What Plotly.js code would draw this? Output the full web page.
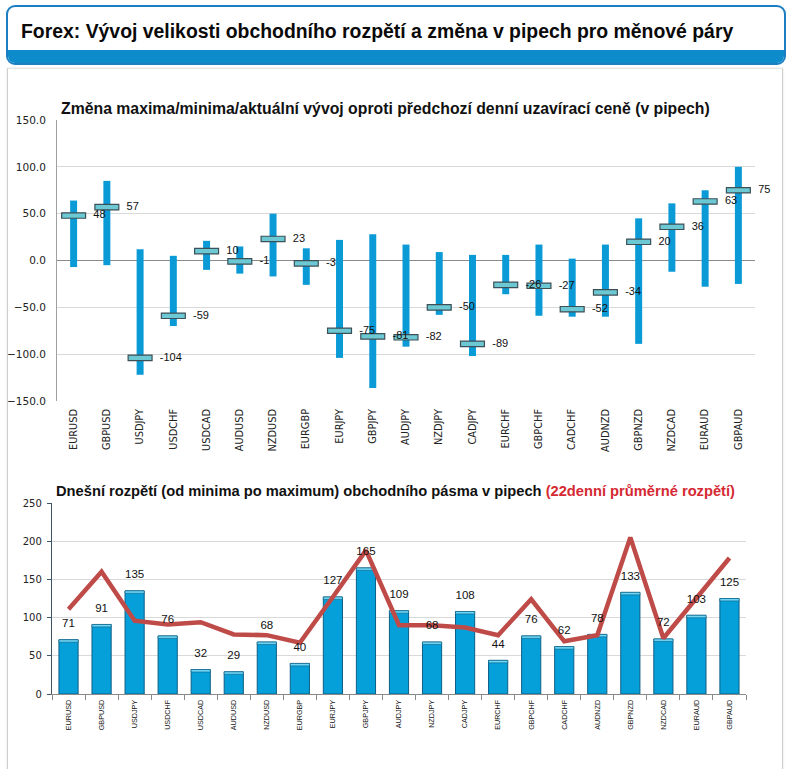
<!DOCTYPE html>
<html>
<head>
<meta charset="utf-8">
<script src="https://cdn.plot.ly/plotly-3.0.1.min.js"></script>
<style>
  html, body { margin:0; padding:0; background:#ffffff; }
  #wrap { position:relative; width:796px; height:769px; overflow:hidden; }
  #hdr { position:absolute; left:6px; top:5px; width:776px; height:56px; border:2px solid #1c7fc2; border-radius:9px; background:#fff; overflow:hidden; }
  #band { position:absolute; left:0; right:0; bottom:0; height:13px; background:#0d8bcb; }
  #panel { position:absolute; left:7px; top:68px; width:774px; height:720px; border-left:1px solid #cfcfcf; border-right:1px solid #cfcfcf; border-top:1px solid #e6e6e6; box-shadow:0 0 2px #dcdcdc; }
  #chart { position:absolute; left:0; top:0; width:796px; height:769px; }
</style>
</head>
<body>
<div id="wrap">
  <div id="hdr"><div id="band"></div></div>
  <div id="panel"></div>
  <div id="chart"></div>
</div>
<script>
// ---- data ----
var pairs = ['EURUSD','GBPUSD','USDJPY','USDCHF','USDCAD','AUDUSD','NZDUSD','EURGBP','EURJPY','GBPJPY','AUDJPY','NZDJPY','CADJPY','EURCHF','GBPCHF','CADCHF','AUDNZD','GBPNZD','NZDCAD','EURAUD','GBPAUD'];
var highs = [64, 85, 12, 5, 21, 15, 50, 13, 22, 28, 17, 9, 6, 6, 17, 2, 17, 45, 61, 75, 100];
var lows = [-7, -5, -122, -70, -10, -14, -17, -26, -104, -136, -92, -58, -102, -36, -59, -60, -60, -89, -12, -28, -25];
var current = [48, 57, -104, -59, 10, -1, 23, -3, -75, -81, -82, -50, -89, -26, -27, -52, -34, 20, 36, 63, 75];
var dailyRange = [71, 91, 135, 76, 32, 29, 68, 40, 127, 165, 109, 68, 108, 44, 76, 62, 78, 133, 72, 103, 125];
var avg22 = [111, 160, 96, 91, 94, 78, 77, 67, 127, 188, 90, 90, 87, 77, 124, 69, 77, 205, 73, 126, 178];
var topTicks = [-150, -100, -50, 0, 50, 100, 150];
var bottomTicks = [0, 50, 100, 150, 200, 250];

// ---- helpers (figure is 796x769 px, margins 0) ----
var W = 796, H = 769;
function px(x){ return x / W; }
function py(y){ return 1 - y / H; }

var capH = 5.8;
var traces = [];
// top: high-low range bars
traces.push({
  type:'bar', x:pairs, base:lows, y:highs.map(function(h,i){return h-lows[i];}),
  width:0.21, marker:{color:'#0a9ad6', line:{width:0}}, xaxis:'x', yaxis:'y', hoverinfo:'skip'
});
// top: current value caps
traces.push({
  type:'bar', x:pairs, base:current.map(function(v){return v-capH/2;}), y:current.map(function(){return capH;}),
  width:0.72, marker:{color:'#6cc9d3', line:{color:'#3d4f57', width:1.2}}, xaxis:'x', yaxis:'y', hoverinfo:'skip'
});
// top: labels
traces.push({
  type:'scatter', mode:'markers+text', x:pairs, y:current, text:current.map(String),
  textposition:'middle right', marker:{size:30, opacity:0},
  textfont:{family:'Liberation Sans, Arial, sans-serif', size:11, color:'#111'},
  xaxis:'x', yaxis:'y', hoverinfo:'skip', cliponaxis:false
});
// bottom: daily range bars
traces.push({
  type:'bar', x:pairs, y:dailyRange, width:0.58,
  marker:{color:'#05a0d9', line:{color:'#0d5f85', width:1}}, xaxis:'x2', yaxis:'y2', hoverinfo:'skip'
});
// bottom: bar top highlight
traces.push({
  type:'bar', x:pairs, base:dailyRange.map(function(v){return v-3.2;}), y:dailyRange.map(function(){return 3.2;}),
  width:0.58, marker:{color:'#6fd6f5', line:{color:'#0d5f85', width:0.6}}, xaxis:'x2', yaxis:'y2', hoverinfo:'skip'
});
// bottom: 22 day average line
traces.push({
  type:'scatter', mode:'lines', x:pairs, y:avg22,
  line:{color:'#bf4b48', width:4.5}, xaxis:'x2', yaxis:'y2', hoverinfo:'skip'
});
// bottom: labels
traces.push({
  type:'scatter', mode:'markers+text', x:pairs, y:dailyRange, text:dailyRange.map(String),
  textposition:'top center', marker:{size:14, opacity:0},
  textfont:{family:'Liberation Sans, Arial, sans-serif', size:11.5, color:'#111'},
  xaxis:'x2', yaxis:'y2', hoverinfo:'skip', cliponaxis:false
});

var tickFont = {family:'DejaVu Sans, sans-serif', size:10, color:'#222'};

var layout = {
  width:W, height:H, margin:{l:0, r:0, t:0, b:0},
  paper_bgcolor:'rgba(0,0,0,0)', plot_bgcolor:'rgba(0,0,0,0)',
  barmode:'overlay', showlegend:false, hovermode:false,
  xaxis:{
    domain:[px(57), px(755)], anchor:'y', type:'category', range:[-0.5, 20.5],
    tickangle:-90, tickfont:{family:'DejaVu Sans, sans-serif', size:9.8, color:'#222'},
    showgrid:false, showline:false, ticks:'', ticklabelstandoff:5, fixedrange:true
  },
  yaxis:{
    domain:[py(401), py(120)], anchor:'x', range:[-150, 150], tickvals:topTicks,
    tickformat:'.1f', tickfont:{family:'DejaVu Sans, sans-serif', size:10.5, color:'#222'},
    showgrid:true, gridcolor:'#d9d9d9', gridwidth:1,
    zeroline:true, zerolinecolor:'#8a8a8a', zerolinewidth:1.2,
    showline:true, linecolor:'#a0a0a0', linewidth:1, ticks:'', ticklabelstandoff:8, fixedrange:true
  },
  xaxis2:{
    domain:[px(52), px(746)], anchor:'y2', type:'category', range:[-0.5, 20.5],
    tickangle:-90, tickfont:{family:'Liberation Sans, Arial, sans-serif', size:7.2, color:'#111'},
    showgrid:false, showline:true, linecolor:'#8a8a8a', linewidth:1,
    ticks:'outside', tickson:'boundaries', ticklen:5, tickcolor:'#8a8a8a', ticklabelstandoff:2, fixedrange:true
  },
  yaxis2:{
    domain:[py(694), py(503)], anchor:'x2', range:[0, 250], tickvals:bottomTicks,
    tickfont:tickFont, showgrid:true, gridcolor:'#d9d9d9', gridwidth:1, zeroline:false,
    showline:true, linecolor:'#3f5466', linewidth:1.2, ticks:'outside', ticklen:4, tickcolor:'#3f5466',
    ticklabelstandoff:3, fixedrange:true
  },
  annotations:[
    {text:'<b>Forex: Vývoj velikosti obchodního rozpětí a změna v pipech pro měnové páry</b>',
     xref:'paper', yref:'paper', x:px(19), y:py(31), xanchor:'left', yanchor:'middle', showarrow:false,
     font:{family:'Liberation Sans, Arial, sans-serif', size:19.4, color:'#0a0a0a'}},
    {text:'<b>Změna maxima/minima/aktuální vývoj oproti předchozí denní uzavírací ceně (v pipech)</b>',
     xref:'paper', yref:'paper', x:px(59), y:py(108), xanchor:'left', yanchor:'middle', showarrow:false,
     font:{family:'Liberation Sans, Arial, sans-serif', size:15.8, color:'#111'}},
    {text:'<b>Dnešní rozpětí (od minima po maximum) obchodního pásma v pipech <span style="color:#d52a33">(22denní průměrné rozpětí)</span></b>',
     xref:'paper', yref:'paper', x:px(54), y:py(491), xanchor:'left', yanchor:'middle', showarrow:false,
     font:{family:'Liberation Sans, Arial, sans-serif', size:14.7, color:'#111'}}
  ]
};

Plotly.newPlot('chart', traces, layout, {staticPlot:true, displayModeBar:false});
</script>
</body>
</html>
